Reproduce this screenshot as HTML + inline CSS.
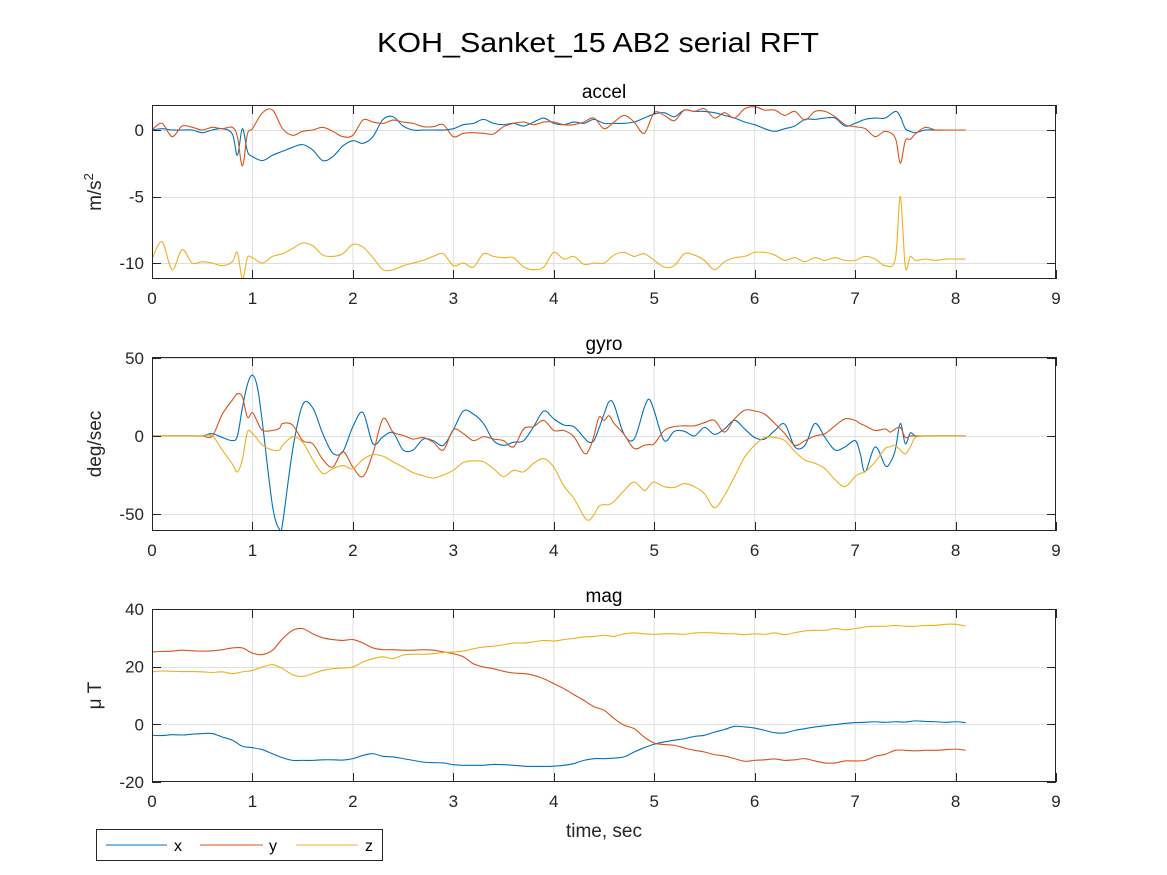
<!DOCTYPE html>
<html><head><meta charset="utf-8"><style>
html,body{margin:0;padding:0;background:#fff;}
svg{display:block;font-family:"Liberation Sans",Arial,sans-serif;}
</style></head><body>
<svg id="fig" width="1167" height="875" viewBox="0 0 1167 875">
<rect x="0" y="0" width="1167" height="875" fill="#fff"/>
<text x="598" y="52" font-size="28" text-anchor="middle" fill="#000" textLength="442" lengthAdjust="spacingAndGlyphs">KOH_Sanket_15 AB2 serial RFT</text>
<g id="plots"></g>
<g>
<rect x="96.5" y="829.5" width="286" height="31" fill="#fff" stroke="#262626" stroke-width="1"/>
<line x1="106" y1="845" x2="167" y2="845" stroke="#0072BD" stroke-width="1"/>
<text x="174" y="851" font-size="16" fill="#000">x</text>
<line x1="200" y1="845" x2="263" y2="845" stroke="#D95319" stroke-width="1"/>
<text x="269" y="851" font-size="16" fill="#000">y</text>
<line x1="296" y1="845" x2="358" y2="845" stroke="#EDB120" stroke-width="1"/>
<text x="365" y="851" font-size="16" fill="#000">z</text>
</g>
</svg>
<script>
// ---- accel data ----
const accelT = [0,.1,.2,.3,.4,.5,.6,.7,.8,.85,.9,.95,
1.0,1.1,1.2,1.3,1.4,1.5,1.6,1.7,1.8,1.9,
2.0,2.1,2.2,2.3,2.4,2.5,2.6,2.7,2.8,2.9,
3.0,3.1,3.2,3.3,3.4,3.5,3.6,3.7,3.8,3.9,
4.0,4.1,4.2,4.3,4.4,4.5,4.6,4.7,4.8,4.9,
5.0,5.1,5.2,5.3,5.4,5.5,5.6,5.7,5.8,5.9,
6.0,6.1,6.2,6.3,6.4,6.5,6.6,6.7,6.8,6.9,
7.0,7.1,7.2,7.3,7.4,7.45,7.5,7.55,7.6,7.7,7.8,7.9,
8.0,8.1];
const accelX = [0,.1,0,0,0,-.2,0,.1,-.3,-1.9,.1,-1.6,
-2.0,-2.3,-1.9,-1.6,-1.3,-1.1,-1.5,-2.3,-2.0,-1.2,
-.8,-1.0,-.5,.8,1.0,.3,0,0,0,0,
.1,.4,.5,.8,.5,.4,.5,.3,.6,.9,
.5,.4,.6,.5,.8,.5,.5,.5,.6,.9,
1.2,1.3,1.0,1.5,1.4,1.4,1.3,1.1,.9,.6,
.4,.1,-.1,.1,.3,.8,.8,.9,.9,.3,
.5,.8,.9,.9,1.4,1.0,.1,-.1,-.2,0,0,0,
0,0];
const accelY = [0,.5,-.5,.3,.2,0,.2,.1,.2,-.5,-2.7,-.3,
.1,1.3,1.5,.1,-.4,-.1,0,.2,-.1,-.5,
-.4,.75,.6,.5,.75,.6,.5,.25,.25,.4,
-.5,-.25,-.2,-.25,-.3,.25,.5,.6,.4,.6,
.6,.4,.4,.6,.9,.1,.6,1.1,.6,-.25,
1.3,1.1,.7,1.5,1.4,1.6,.9,1.3,.9,1.6,
1.75,1.5,1.5,1.1,1.4,.75,1.4,1.4,1.0,.4,
.25,.1,-.5,-.1,-.6,-2.5,-.8,-.7,-.3,.2,0,0,
0,0];
const accelZ = [-9.7,-8.4,-10.5,-9.0,-10.0,-9.9,-10.0,-10.2,-9.9,-9.2,-11.2,-9.6,
-9.6,-10.0,-9.5,-9.3,-8.9,-8.5,-8.7,-9.4,-9.5,-9.3,
-8.6,-8.8,-9.6,-10.5,-10.5,-10.2,-10.0,-9.8,-9.5,-9.3,
-10.2,-10.0,-10.3,-9.3,-9.5,-9.6,-9.6,-10.3,-10.5,-10.3,
-9.2,-9.7,-9.5,-10.1,-10.0,-10.0,-9.4,-9.2,-9.5,-9.3,
-9.8,-10.3,-10.2,-9.3,-9.4,-9.8,-10.5,-9.9,-9.6,-9.5,
-9.2,-9.2,-9.4,-9.8,-9.6,-9.9,-9.6,-9.8,-9.6,-9.8,
-9.8,-9.5,-9.7,-10.2,-9.7,-5.0,-10.3,-9.5,-9.8,-9.7,-9.8,-9.7,
-9.7,-9.7];
// ---- gyro data ----
const gyroT = [0,.1,.2,.3,.4,.5,.6,.7,.8,.85,.9,.95,
1.0,1.05,1.1,1.2,1.27,1.3,1.4,1.5,1.6,1.7,1.8,1.9,
2.0,2.1,2.2,2.3,2.4,2.5,2.6,2.7,2.8,2.9,
3.0,3.1,3.2,3.3,3.4,3.5,3.6,3.7,3.8,3.9,
4.0,4.1,4.2,4.3,4.35,4.4,4.45,4.5,4.55,4.6,4.7,4.8,4.9,4.95,
5.0,5.1,5.2,5.3,5.4,5.5,5.6,5.7,5.8,5.9,
6.0,6.1,6.2,6.3,6.4,6.5,6.6,6.7,6.8,6.9,
7.0,7.05,7.1,7.2,7.3,7.35,7.4,7.45,7.5,7.55,7.6,7.7,7.8,7.9,
8.0,8.1];
const gyroX = [0,0,0,0,0,0,1.5,-1,-3,0,18,33,
39,31,8,-45,-60,-56,-9,20,18,1.5,-11,-10,
6,15,-5,-.5,2,-9,-9,-2,-3,-6,
4,16,14,8,-3,-6,-4,-3,6,16,
11,7,6,-1,-4,-3,5,14,22,20,1,-2,18,23.5,
16,-3,3,3,0,5.5,1,4.5,10,4.5,
-1,-2,3.5,7.5,-7,-6,8,-1,-9,-7,
-3,-11,-23,-7,-19,-17,-9,8,-5,2,0,0,0,0,
0,0];
const gyroY = [0,0,0,0,0,0,0,14,23,27,25,12,
15,9,3.5,3.5,5,8,7,-3,-5,-15,-20,-10,
-20,-26,-11,11,2.5,.4,-2,-1,-4,-9,
4,1.5,-3,-.5,-2,-3,-7,4.5,6,10,
3.5,3.5,-.5,-11,-9,0,12,10,13,8,1,-8,-6,-5.5,
-5,3.5,6,6.5,6.5,8.5,10,2.5,11,16.5,
16,14,8,1.5,-6,-3,0,1.5,6.5,11,
10,8,6.5,3.5,4.5,2.5,4.5,5.5,-1,0,0,0,0,0,
0,0];
const gyroZ = [0,0,0,0,0,0,0,-9,-18,-23,-15,2.5,
1.5,-2,-6,-9,-9,-6,-.6,-4,-15,-24,-21,-19,
-21,-15,-12,-13,-16.5,-20,-23.5,-25.5,-27,-25,
-22,-17,-16,-16.5,-21,-26,-22,-23,-17.5,-14.5,
-20,-32,-40,-51.5,-54,-50.5,-45,-44,-44,-42,-35,-29.5,-35,-32,
-29.5,-32.5,-33,-30.5,-32.5,-37,-46,-38,-26,-13.5,
-6,-1,-1,-3,-10,-15.5,-17.5,-21,-28,-32.5,
-26,-24,-23,-16.5,-8,-7,-6,-9,-11.5,-7,-1,0,0,0,
0,0];
// ---- mag data ----
const magT = [0,.1,.2,.3,.4,.5,.6,.7,.8,.9,
1.0,1.1,1.2,1.3,1.4,1.5,1.6,1.7,1.8,1.9,
2.0,2.1,2.2,2.3,2.4,2.5,2.6,2.7,2.8,2.9,
3.0,3.1,3.2,3.3,3.4,3.5,3.6,3.7,3.8,3.9,
4.0,4.1,4.2,4.3,4.4,4.5,4.6,4.7,4.8,4.9,
5.0,5.1,5.2,5.3,5.4,5.5,5.6,5.7,5.8,5.9,
6.0,6.1,6.2,6.3,6.4,6.5,6.6,6.7,6.8,6.9,
7.0,7.1,7.2,7.3,7.4,7.5,7.6,7.7,7.8,7.9,
8.0,8.1];
const magX = [-3.8,-3.9,-3.6,-3.7,-3.4,-3.2,-3.2,-4.4,-5.5,-7.6,
-8.1,-8.8,-10.2,-11.6,-12.5,-12.5,-12.5,-12.3,-12.3,-12.4,
-11.9,-10.8,-10.2,-11.1,-11.3,-11.9,-12.5,-13.1,-13.3,-13.4,
-14.0,-14.2,-14.2,-14.2,-13.9,-14.0,-14.2,-14.5,-14.6,-14.6,
-14.5,-14.2,-13.6,-12.5,-11.9,-11.9,-11.7,-11.3,-9.6,-8.1,
-6.9,-6.1,-5.5,-5.0,-4.2,-3.8,-2.7,-1.8,-0.7,-0.9,
-1.3,-2.1,-2.9,-3.0,-2.1,-1.5,-0.9,-0.5,-0.1,0.3,
0.6,0.7,0.9,0.7,0.9,0.8,1.2,1.0,0.9,0.7,
0.9,0.6];
const magY = [25.1,25.3,25.4,25.7,25.5,25.4,25.5,25.9,26.5,26.5,
24.7,24.2,25.7,29.7,32.6,33.2,31.4,30.0,29.4,29.1,
29.4,28.2,26.5,25.9,25.9,25.7,25.7,25.9,25.7,25.1,
24.5,23.4,21.0,19.9,19.3,18.4,17.8,17.6,17.0,15.8,
14.1,12.4,10.3,8.3,6.1,4.9,2.0,-0.3,-1.5,-4.4,
-6.5,-7.0,-7.3,-8.2,-9.0,-9.6,-10.5,-11.0,-11.9,-12.8,
-12.5,-12.3,-12.0,-12.5,-12.3,-11.9,-12.7,-13.4,-13.4,-12.7,
-12.7,-12.5,-11.1,-10.4,-9.0,-9.0,-9.2,-9.0,-9.0,-8.8,
-8.6,-9.0];
const magZ = [18.2,18.5,18.4,18.3,18.3,18.2,18.0,18.2,17.6,18.2,
18.7,19.9,20.7,19.3,17.2,16.6,17.6,18.7,19.3,19.5,
19.9,21.6,22.8,23.4,22.8,24.0,24.3,24.3,24.5,24.9,
25.1,25.4,26.2,26.8,27.1,27.6,28.2,28.2,28.6,29.1,
28.9,29.4,29.8,30.3,30.5,30.9,30.5,31.4,31.7,31.4,
31.2,31.4,31.4,31.2,31.7,31.8,31.7,31.4,31.4,31.1,
31.4,31.2,31.7,31.1,31.8,32.4,32.6,32.6,33.2,32.8,
33.2,33.8,34.0,34.0,34.3,34.0,34.0,34.3,34.3,34.7,
34.7,34.1];
const xTicks = [0,1,2,3,4,5,6,7,8,9];
const accelYTicks = [-10,-5,0];
const gyroYTicks = [-50,0,50];
const magYTicks = [-20,0,20,40];

const NS = 'http://www.w3.org/2000/svg';
const COLORS = ['#0072BD','#D95319','#EDB120'];
const root = document.getElementById('plots');
function mk(tag, attrs, parent){
  const e = document.createElementNS(NS, tag);
  for (const k in attrs) e.setAttribute(k, attrs[k]);
  parent.appendChild(e);
  return e;
}
function smoothPath(pts){
  let d = 'M' + pts[0][0].toFixed(2) + ',' + pts[0][1].toFixed(2);
  for (let i=0;i<pts.length-1;i++){
    const p0 = pts[Math.max(0,i-1)], p1 = pts[i], p2 = pts[i+1], p3 = pts[Math.min(pts.length-1,i+2)];
    const c1x = p1[0] + (p2[0]-p0[0])/6, c1y = p1[1] + (p2[1]-p0[1])/6;
    const c2x = p2[0] - (p3[0]-p1[0])/6, c2y = p2[1] - (p3[1]-p1[1])/6;
    d += ' C' + c1x.toFixed(2)+','+c1y.toFixed(2)+' '+c2x.toFixed(2)+','+c2y.toFixed(2)+' '+p2[0].toFixed(2)+','+p2[1].toFixed(2);
  }
  return d;
}
function drawAxes(cfg){
  const L=152, R=1056, T=cfg.top, B=cfg.bottom;
  const g = mk('g', {}, root);
  
  
  const xs = t => L + (t-0)/(9-0)*(R-L);
  const ys = v => B - (v-cfg.ymin)/(cfg.ymax-cfg.ymin)*(B-T);
  xTicks.forEach(t => {
    if (t===0 || t===9) return;
    const l = mk('line', {x1:xs(t), x2:xs(t), y1:T, y2:B, stroke:'#dfdfdf', 'stroke-width':1}, g);
    
    
  });
  cfg.yticks.forEach(v => {
    const y = Math.round(ys(v))+0.5;
    if (y <= T+1 || y >= B-1) return;
    const l = mk('line', {x1:L, x2:R, y1:y, y2:y, stroke:'#dfdfdf', 'stroke-width':1}, g);
    
    
  });
  const clip = mk('clipPath', {id:'clip-'+cfg.name}, g);
  mk('rect', {x:L, y:T, width:R-L, height:B-T}, clip);
  cfg.series.forEach((vals, i) => {
    const n = Math.min(vals.length, cfg.t.length);
    const pts = [];
    for (let k=0;k<n;k++) pts.push([xs(cfg.t[k]), ys(vals[k])]);
    const p = mk('path', {d: smoothPath(pts), fill:'none', stroke:COLORS[i], 'stroke-width':1.1, 'stroke-linejoin':'round', 'clip-path':'url(#clip-'+cfg.name+')'}, g);
    
    
  });
  const box = mk('rect', {x:L+0.5, y:T+0.5, width:R-L-1, height:B-T-1, fill:'none', stroke:'#262626', 'stroke-width':1}, g);
  
  
  xTicks.forEach(t => {
    const x = Math.round(xs(t))+0.5;
    mk('line', {x1:x, x2:x, y1:B, y2:B-9, stroke:'#262626', 'stroke-width':1}, g);
    mk('line', {x1:x, x2:x, y1:T, y2:T+9, stroke:'#262626', 'stroke-width':1}, g);
    const tx = mk('text', {x:xs(t), y:B+25, 'font-size':17, 'text-anchor':'middle', fill:'#262626'}, g);
    tx.textContent = t;
    
    
  });
  cfg.yticks.forEach(v => {
    const y = Math.round(ys(v))+0.5;
    mk('line', {x1:L, x2:L+9, y1:y, y2:y, stroke:'#262626', 'stroke-width':1}, g);
    mk('line', {x1:R-9, x2:R, y1:y, y2:y, stroke:'#262626', 'stroke-width':1}, g);
    const tx = mk('text', {x:L-8, y:ys(v)+6, 'font-size':17, 'text-anchor':'end', fill:'#262626'}, g);
    tx.textContent = v;
    
    
  });
  const ti = mk('text', {x:604, y:T-7, 'font-size':19, 'text-anchor':'middle', fill:'#000'}, g);
  ti.textContent = cfg.name;
  
  
  const yl = mk('text', {x:0, y:0, 'font-size':19, 'text-anchor':'middle', fill:'#262626', transform:'translate(101,'+((T+B)/2)+') rotate(-90)'}, g);
  
  
  if (cfg.name==='accel'){
    const a = mk('tspan', {}, yl); a.textContent='m/s';
    const b = mk('tspan', {'font-size':13, dy:-8}, yl); b.textContent='2';
  } else {
    yl.textContent = cfg.ylabel;
  }
}
drawAxes({name:'accel', top:105, bottom:279, ymin:-11.2, ymax:1.88, yticks:accelYTicks, t:accelT, series:[accelX,accelY,accelZ]});
drawAxes({name:'gyro', top:357, bottom:531, ymin:-60.9, ymax:50.6, yticks:gyroYTicks, t:gyroT, series:[gyroX,gyroY,gyroZ], ylabel:'deg/sec'});
drawAxes({name:'mag', top:609, bottom:782, ymin:-20, ymax:40, yticks:magYTicks, t:magT, series:[magX,magY,magZ], ylabel:'\u03bc T'});
const xl = mk('text', {x:604, y:837, 'font-size':19, 'text-anchor':'middle', fill:'#262626'}, document.getElementById('fig'));
xl.textContent = 'time, sec';


</script>
</body></html>
